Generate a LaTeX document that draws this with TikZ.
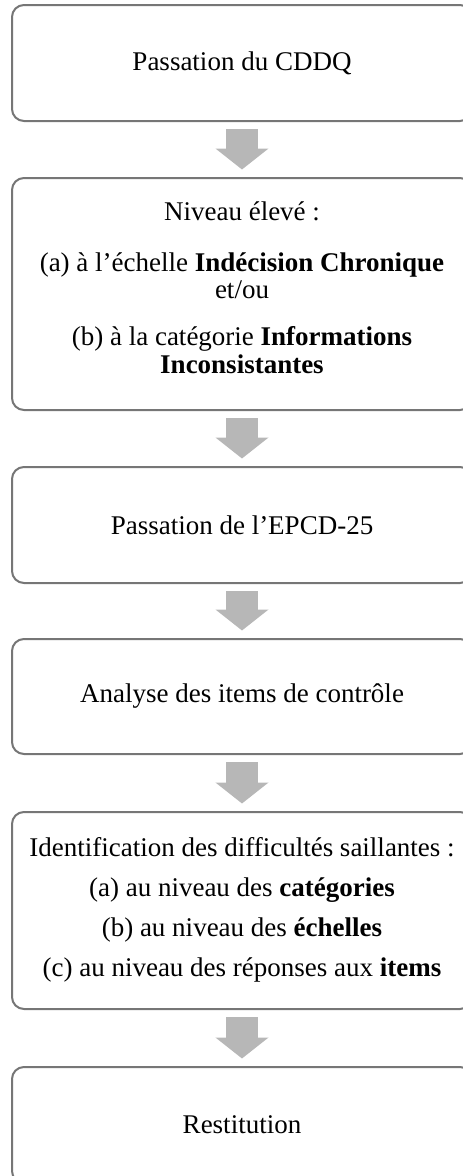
\documentclass[tikz,border=0pt]{standalone}
\usepackage{fontspec}
\setmainfont{Liberation Serif}
\usetikzlibrary{arrows.meta}
\definecolor{boxline}{HTML}{767676}
\definecolor{arrowfill}{HTML}{B7B7B7}
\tikzset{
  stepbox/.style={draw=boxline, line width=2pt, rounded corners=12pt, fill=white,
    minimum width=460pt, inner sep=0pt, align=center,
    font=\fontsize{27}{27.5}\selectfont},
  flowarrow/.style={draw=arrowfill, line width=32pt,
    -{Triangle[width=52pt,length=21pt]}, shorten <=7pt, shorten >=7.5pt}
}
\begin{document}
\begin{tikzpicture}[x=1pt,y=-1pt]
\useasboundingbox (0,0) rectangle (463,1176);
\clip (0,0) rectangle (463,1176);
\node[stepbox, minimum height=116pt] (b1) at (242,63) {Passation du CDDQ};
\node[stepbox, minimum height=232pt] (b2) at (242,294) {\raisebox{3pt}[\height][\depth]{\begin{tabular}{@{}c@{}}
Niveau élevé :\\[23.5pt]
(a) à l’échelle \textbf{Indécision Chronique}\\
et/ou\\[19.5pt]
(b) à la catégorie \textbf{Informations}\\
\textbf{Inconsistantes}
\end{tabular}}};
\node[stepbox, minimum height=116pt] (b3) at (242,525) {Passation de l’EPCD-25};
\node[stepbox, minimum height=115pt] (b4) at (242,696.5) {Analyse des items de contrôle};
\node[stepbox, minimum height=197pt] (b5) at (242,910.5) {\begin{tabular}{@{}c@{}}
Identification des difficultés saillantes :\\[12.5pt]
(a) au niveau des \textbf{catégories}\\[12.5pt]
(b) au niveau des \textbf{échelles}\\[12.5pt]
(c) au niveau des réponses aux \textbf{items}
\end{tabular}};
\node[stepbox, minimum height=116pt] (b6) at (242,1125) {Restitution};
\draw[flowarrow] (b1.south) -- (b2.north);
\draw[flowarrow] (b2.south) -- (b3.north);
\draw[flowarrow] (b3.south) -- (b4.north);
\draw[flowarrow] (b4.south) -- (b5.north);
\draw[flowarrow] (b5.south) -- (b6.north);
\end{tikzpicture}
\end{document}
